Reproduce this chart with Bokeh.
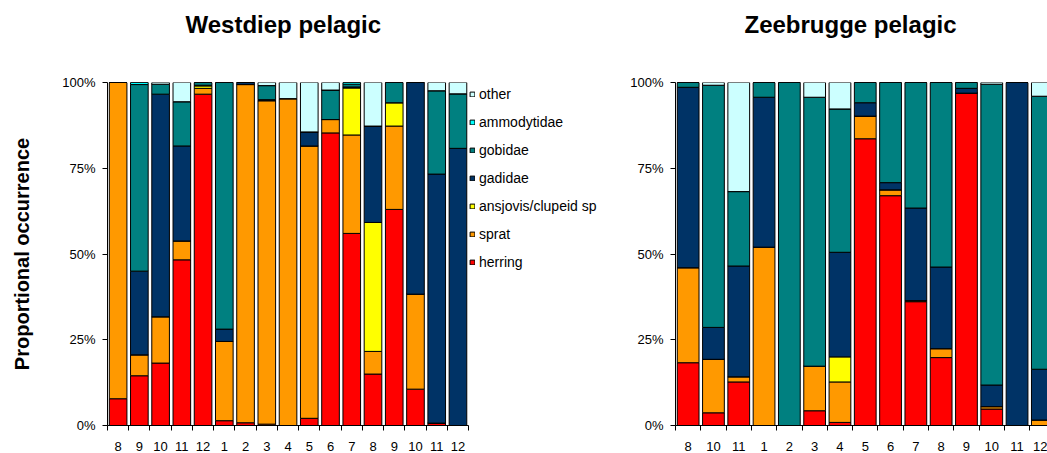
from bokeh.plotting import figure
from bokeh.models import (ColumnDataSource, Range1d, FixedTicker, NumeralTickFormatter,
                          Legend, LegendItem, Title)
from bokeh.layouts import row
from bokeh.embed import file_html
from bokeh.resources import INLINE

FONT = "Liberation Sans"

species = ["herring", "sprat", "ansjovis/clupeid sp", "gadidae", "gobidae", "ammodytidae", "other"]
colors = ["#FF0000", "#FF9900", "#FFFF00", "#003366", "#008080", "#00FFFF", "#CCFFFF"]

# Westdiep pelagic (percent)
west_months = ["8", "9", "10", "11", "12", "1", "2", "3", "4", "5", "6", "7", "8", "9", "10", "11", "12"]
west_herring = [7.8, 14.5, 18.2, 48.3, 96.6, 1.4, 0.8, 0.4, 0, 2.1, 85.3, 56.0, 15.0, 63.0, 10.6, 0.7, 0]
west_sprat = [92.2, 6.1, 13.5, 5.5, 1.7, 23.1, 98.6, 94.3, 95.3, 79.4, 3.9, 28.7, 6.6, 24.3, 27.7, 0, 0]
west_ansjovis = [0, 0, 0, 0, 0.7, 0, 0, 0, 0, 0, 0, 13.7, 37.6, 6.8, 0, 0, 0]
west_gadidae = [0, 24.4, 64.9, 27.7, 0.2, 3.6, 0.6, 0.3, 0, 4.1, 0, 0.3, 28.1, 0, 61.7, 72.6, 80.8]
west_gobidae = [0, 54.4, 2.9, 12.9, 0.8, 71.9, 0, 4.1, 0, 0, 8.6, 0.8, 0, 5.9, 0, 24.3, 15.9]
west_ammodytidae = [0, 0.6, 0, 0, 0, 0, 0, 0, 0, 0, 0, 0.5, 0, 0, 0, 0, 0]
west_other = [0, 0, 0.5, 5.6, 0, 0, 0, 0.9, 4.7, 14.4, 2.2, 0, 12.7, 0, 0, 2.4, 3.3]

# Zeebrugge pelagic (percent)
zee_months = ["8", "10", "11", "1", "2", "3", "4", "5", "6", "7", "8", "9", "10", "11", "12"]
zee_herring = [18.3, 3.7, 12.7, 0, 0, 4.3, 0.9, 83.6, 67.0, 36.1, 19.8, 96.9, 4.8, 0, 0]
zee_sprat = [27.7, 15.6, 1.5, 52.0, 0, 13.0, 11.8, 6.6, 1.7, 0.3, 2.6, 0, 0.7, 0, 1.6]
zee_ansjovis = [0, 0, 0, 0, 0, 0, 7.3, 0, 0, 0, 0, 0, 0, 0, 0]
zee_gadidae = [52.6, 9.3, 32.3, 43.7, 0, 0, 30.5, 3.9, 2.1, 27.0, 23.8, 1.4, 6.3, 100, 14.8]
zee_gobidae = [1.4, 70.6, 21.7, 4.3, 100, 78.4, 41.8, 5.9, 29.2, 36.6, 53.8, 1.7, 87.7, 0, 79.6]
zee_ammodytidae = [0] * 15
zee_other = [0, 0.8, 31.8, 0, 0, 4.3, 7.7, 0, 0, 0, 0, 0, 0.5, 0, 4.0]

west = [west_herring, west_sprat, west_ansjovis, west_gadidae, west_gobidae, west_ammodytidae, west_other]
zee = [zee_herring, zee_sprat, zee_ansjovis, zee_gadidae, zee_gobidae, zee_ammodytidae, zee_other]

H = 453
TOP = 82
BOTTOM = 28


def make(months, series, title, width, bl, xend, bar_w, ylabel, toff):
    n = len(months)
    xs = list(range(n))
    src = {"x": xs}
    keys = []
    for i, vals in enumerate(series):
        k = "s%d" % i
        src[k] = [v / 100.0 for v in vals]
        keys.append(k)
    p = figure(width=width, height=H, output_backend="svg", toolbar_location=None,
               x_range=Range1d(-0.5, xend), y_range=Range1d(0, 1),
               min_border_left=bl, min_border_right=0, min_border_top=TOP,
               min_border_bottom=BOTTOM)
    rs = p.vbar_stack(keys, x="x", width=bar_w, fill_color=colors, line_color="black",
                      line_width=1, source=ColumnDataSource(src))
    # real title (outermost)
    p.title.text = title
    p.title.text_font = FONT
    p.title.text_font_size = "24px"
    p.title.text_font_style = "bold"
    p.title.text_color = "black"
    p.title.align = "left"
    p.title.offset = toff
    p.title.standoff = 0
    # inner, invisible spacer between title and frame
    p.add_layout(Title(text=" ", text_font=FONT, text_font_size="24px", standoff=16), "above")
    p.xgrid.visible = False
    p.ygrid.visible = False
    p.outline_line_color = None

    ya = p.yaxis[0]
    ya.ticker = FixedTicker(ticks=[0, 0.25, 0.5, 0.75, 1.0])
    ya.formatter = NumeralTickFormatter(format="0%")
    ya.major_tick_out = 5
    ya.major_tick_in = 0
    ya.major_tick_line_color = "black"
    ya.axis_line_color = "black"
    ya.major_label_text_font = FONT
    ya.major_label_text_font_size = "13px"
    ya.major_label_text_color = "black"
    ya.major_label_standoff = 7
    if ylabel:
        ya.axis_label = ylabel
        ya.axis_label_text_font = FONT
        ya.axis_label_text_font_size = "20px"
        ya.axis_label_text_font_style = "bold"
        ya.axis_label_text_color = "black"
        ya.axis_label_standoff = 26

    xa = p.xaxis[0]
    xa.ticker = FixedTicker(ticks=xs, minor_ticks=[i - 0.5 for i in range(n + 1)])
    xa.major_label_overrides = {i: m for i, m in enumerate(months)}
    xa.bounds = (-0.5, n - 0.5)
    xa.major_tick_line_color = None
    xa.major_tick_out = 0
    xa.major_tick_in = 0
    xa.minor_tick_out = 5
    xa.minor_tick_in = 0
    xa.minor_tick_line_color = "black"
    xa.axis_line_color = "black"
    xa.major_label_text_font = FONT
    xa.major_label_text_font_size = "13px"
    xa.major_label_text_color = "black"
    xa.major_label_standoff = 11
    return p, rs


# left: frame from x=107, 21.24 px per category, frame extends under the legend
p1, rs1 = make(west_months, west, "Westdiep pelagic", 620, 107, -0.5 + 513 / 21.24, 0.83,
               "Proportional occurrence", 78)
items = [LegendItem(label=species[i], renderers=[rs1[i]]) for i in reversed(range(len(species)))]
legend = Legend(items=items, location=(362, 155), margin=0, padding=6, spacing=12,
                glyph_width=6, glyph_height=6, label_height=14, label_standoff=4,
                label_text_font=FONT, label_text_font_size="14px", label_text_color="black",
                border_line_color=None, background_fill_alpha=0)
p1.add_layout(legend, "center")

# right: frame from x=675, 25.3 px per category, cut at the window edge
p2, rs2 = make(zee_months, zee, "Zeebrugge pelagic", 427, 55, -0.5 + 372 / 25.3, 0.86, None, 69)

layout = row(p1, p2)
open("out.html", "w").write(file_html(layout, INLINE))
